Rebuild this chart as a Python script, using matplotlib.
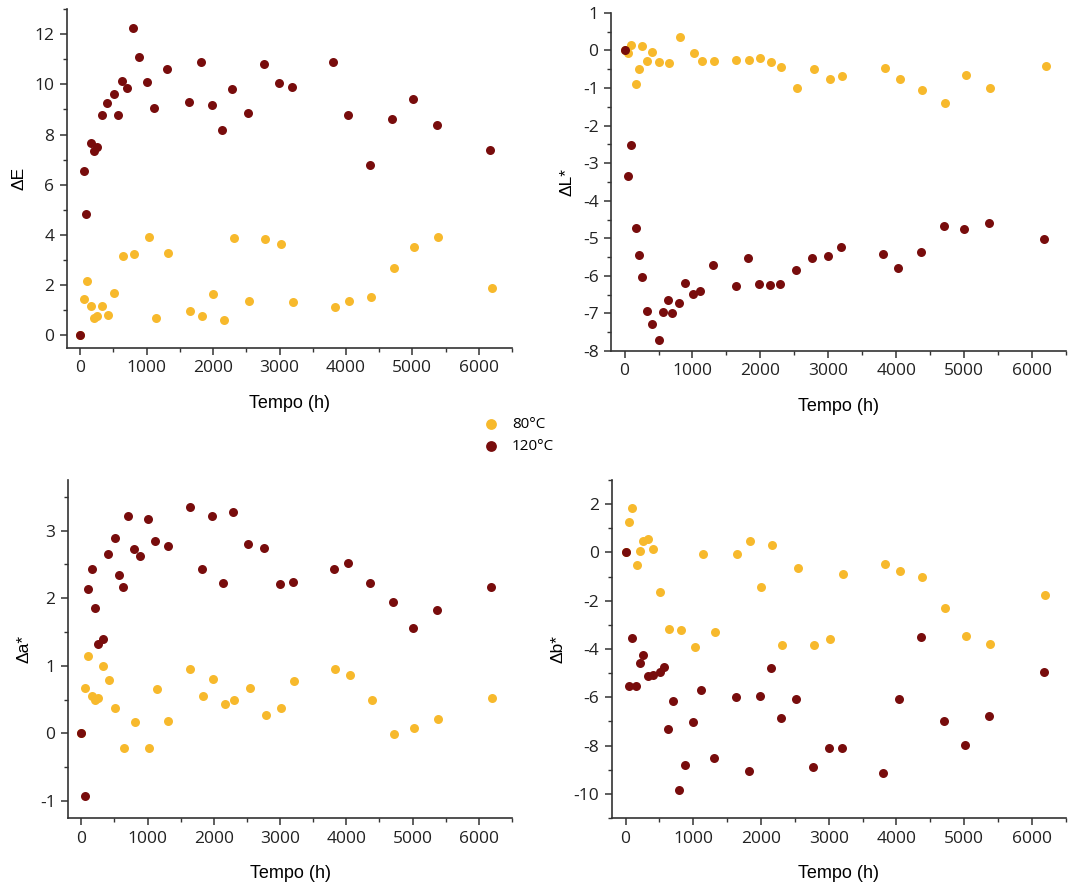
import matplotlib.pyplot as plt
from matplotlib.ticker import MultipleLocator

plt.rcParams['axes.unicode_minus'] = False

# time (h) of each reading
t80 = [0, 50, 96, 163, 209, 259, 325, 411, 505, 647, 812, 1029, 1141, 1316, 1645,
       1834, 1995, 2163, 2309, 2542, 2783, 3019, 3209, 3836, 4050, 4380, 4718,
       5024, 5387, 6199]
t120 = [0, 50, 94, 162, 209, 256, 325, 410, 505, 562, 632, 700, 795, 885, 1001,
        1116, 1304, 1635, 1824, 1980, 2141, 2288, 2522, 2763, 2999, 3193, 3808,
        4031, 4360, 4699, 5004, 5366, 6176]

dE80 = [0, 1.45, 2.17, 1.17, 0.69, 0.76, 1.17, 0.80, 1.68, 3.17, 3.24, 3.93, 0.71,
        3.27, 0.97, 0.76, 1.64, 0.60, 3.89, 1.36, 3.85, 3.65, 1.33, 1.15, 1.36,
        1.53, 2.69, 3.52, 3.92, 1.89]
dE120 = [0, 6.53, 4.83, 7.67, 7.33, 7.50, 8.76, 9.27, 9.61, 8.76, 10.12, 9.84,
         12.23, 11.07, 10.08, 9.04, 10.63, 9.29, 10.89, 9.17, 8.17, 9.83, 8.85,
         10.83, 10.04, 9.91, 10.89, 8.76, 6.77, 8.63, 9.41, 8.39, 7.37]

dL80 = [0, -0.06, 0.14, -0.88, -0.48, 0.13, -0.28, -0.04, -0.30, -0.33, 0.37, -0.06,
        -0.28, -0.27, -0.25, -0.25, -0.21, -0.30, -0.43, -1.01, -0.49, -0.77,
        -0.67, -0.46, -0.76, -1.05, -1.40, -0.65, -1.00, -0.42]
dL120 = [0, -3.34, -2.51, -4.73, -5.44, -6.02, -6.94, -7.27, -7.70, -6.96, -6.65,
         -6.98, -6.73, -6.19, -6.49, -6.41, -5.71, -6.27, -5.52, -6.21, -6.23,
         -6.22, -5.84, -5.52, -5.48, -5.24, -5.43, -5.79, -5.36, -4.66, -4.75,
         -4.58, -5.03]

da80 = [0, 0.68, 1.15, 0.56, 0.49, 0.53, 1.00, 0.79, 0.38, -0.21, 0.17, -0.21, 0.66,
        0.19, 0.95, 0.55, 0.80, 0.43, 0.50, 0.68, 0.27, 0.37, 0.77, 0.95, 0.87,
        0.49, -0.01, 0.08, 0.21, 0.52]
da120 = [0, -0.93, 2.13, 2.43, 1.85, 1.33, 1.40, 2.65, 2.89, 2.35, 2.16, 3.21, 2.73,
         2.62, 3.17, 2.85, 2.77, 3.35, 2.44, 3.22, 2.23, 3.28, 2.80, 2.74, 2.21,
         2.24, 2.43, 2.52, 2.23, 1.95, 1.56, 1.83, 2.16]

db80 = [0, 1.26, 1.82, -0.52, 0.07, 0.48, 0.57, 0.14, -1.63, -3.16, -3.23, -3.93,
        -0.06, -3.28, -0.06, 0.46, -1.43, 0.30, -3.85, -0.63, -3.83, -3.59, -0.91,
        -0.47, -0.76, -1.02, -2.30, -3.46, -3.79, -1.78]
db120 = [0, -5.52, -3.54, -5.52, -4.58, -4.23, -5.14, -5.06, -4.95, -4.76, -7.30,
         -6.17, -9.82, -8.79, -7.03, -5.70, -8.51, -5.97, -9.05, -5.94, -4.80,
         -6.87, -6.07, -8.90, -8.11, -8.11, -9.12, -6.06, -3.49, -6.99, -7.97,
         -6.79, -4.97]

c80 = '#F7B92C'
c120 = '#780C0C'

fig = plt.figure(figsize=(10.68, 8.85), dpi=100)

panels = [
    ([0.0627, 0.6068, 0.4167, 0.383], dE80, dE120, 'ΔE', (-0.5, 13), 2, 1),
    ([0.5721, 0.6034, 0.4260, 0.382], dL80, dL120, 'ΔL*', (-8, 1), 1, 0.5),
    ([0.0637, 0.0757, 0.4157, 0.382], da80, da120, 'Δa*', (-1.25, 3.75), 1, 0.5),
    ([0.5730, 0.0757, 0.4250, 0.382], db80, db120, 'Δb*', (-11, 3), 2, 1),
]

for rect, y80, y120, ylab, ylim, maj, mnr in panels:
    ax = fig.add_axes(rect)
    ax.scatter(t80, y80, s=42, color=c80, label='80°C', zorder=2, linewidths=0)
    ax.scatter(t120, y120, s=42, color=c120, label='120°C', zorder=3, linewidths=0)
    ax.set_xlim(-200, 6500)
    ax.set_ylim(*ylim)
    ax.xaxis.set_major_locator(MultipleLocator(1000))
    ax.xaxis.set_minor_locator(MultipleLocator(500))
    ax.yaxis.set_major_locator(MultipleLocator(maj))
    ax.yaxis.set_minor_locator(MultipleLocator(mnr))
    ax.spines['top'].set_visible(False)
    ax.spines['right'].set_visible(False)
    for s in ['left', 'bottom']:
        ax.spines[s].set_linewidth(1.2)
        ax.spines[s].set_color('#333333')
    ax.tick_params(which='major', direction='out', length=5, width=1.1,
                   color='#333333', labelsize=12.5, pad=4)
    ax.tick_params(which='minor', direction='out', length=3, width=1.0,
                   color='#333333')
    for lb in ax.get_xticklabels() + ax.get_yticklabels():
        lb.set_fontfamily('Open Sans')
        lb.set_color('#222222')
    ax.set_xlabel('Tempo (h)', fontsize=13, family='Liberation Sans', labelpad=13)
    ax.set_ylabel(ylab, fontsize=12.5, family='Liberation Sans', labelpad=6)
    if ylab == 'ΔE':
        handles, labels = ax.get_legend_handles_labels()

fig.legend(handles, labels, loc='center left', bbox_to_anchor=(0.445, 0.508),
           frameon=False, handletextpad=0.9, labelspacing=0.45, markerscale=1.2,
           handlelength=1.0, borderpad=0, prop={'family': 'Open Sans', 'size': 11})

fig.savefig('out.png', dpi=100)
